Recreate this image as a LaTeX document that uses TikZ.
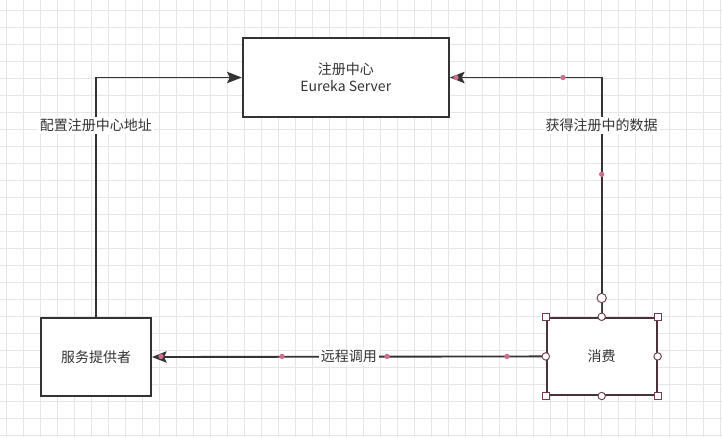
\documentclass[tikz,border=0pt]{standalone}
\usepackage{fontspec}
\setmainfont{Noto Sans CJK SC}
\usepackage{tikz}
\usetikzlibrary{arrows.meta,positioning}

\definecolor{linegray}{HTML}{333333}
\definecolor{gridgray}{HTML}{E6E6E6}
\definecolor{waypink}{HTML}{CC6E8E}
\definecolor{handlered}{HTML}{6E3E4C}
\definecolor{selborder}{HTML}{473338}

\tikzset{
  gridline/.style={gridgray,line width=0.8pt},
  box/.style={draw=linegray,line width=1.4pt,fill=white,text=linegray,
    inner sep=0pt,minimum width=82.5pt,minimum height=58.5pt,align=center,
    font=\fontsize{10.5}{12.5}\selectfont},
  link/.style={linegray,line width=1.4pt,
    -{Stealth[length=11pt,width=8.5pt,inset=2pt]}},
  linklabel/.style={fill=white,text=linegray,inner sep=1.5pt,
    font=\fontsize{10.5}{12.5}\selectfont},
  waypt/.style={fill=waypink},
  sqhandle/.style={draw=handlered,fill=white,line width=0.7pt,
    minimum size=5.2pt,inner sep=0pt},
  cirhandle/.style={circle,draw=handlered,fill=white,line width=0.7pt,
    minimum size=5.6pt,inner sep=0pt},
}

\begin{document}
\begin{tikzpicture}[x=0.75pt,y=-0.75pt]
  \useasboundingbox (0,0) rectangle (722,437);
  \fill[white] (0,0) rectangle (722,437);
  % background grid
  \foreach \i in {0,...,42}
    \draw[gridline] ({6.7+17*\i},0) -- ({6.7+17*\i},437);
  \foreach \j in {0,...,25}
    \draw[gridline] (0,{10.3+17*\j}) -- (722,{10.3+17*\j});

  % boxes
  \node[box,minimum width=154.7pt,minimum height=58.8pt] (registry) at (345.8,77.5)
    {注册中心\\Eureka Server};
  \node[box] (provider) at (96,357) {服务提供者};
  \node[box,draw=selborder,minimum height=58pt] (consumer) at (601.7,356.4) {消费};

  % connectors
  \draw[link] (provider.north) |- (registry.west)
    node[linklabel,pos=0.4] (lblcfg) {配置注册中心地址};
  \draw[link] (consumer.north) |- (registry.east)
    node[linklabel,pos=0.4] (lblfetch) {获得注册中的数据};
  \draw[link] (consumer.west) -- (provider.east)
    node[linklabel,midway] (lblcall) {远程调用};

  % waypoints
  \fill[waypt] (563,77.5) circle (2pt);
  \fill[waypt] (456,77.5) circle (2pt);
  \fill[waypt] (601.7,174.3) circle (2pt);
  \fill[waypt] (282,356.4) circle (2pt);
  \fill[waypt] (387,356.4) circle (2pt);
  \fill[waypt] (507,356.4) circle (2pt);
  \fill[waypt] (161,356.4) circle (2pt);

  % selection handles on consumer
  \coordinate (rot) at (601.7,298);
  \draw[handlered,line width=1pt] (consumer.north) -- (rot);
  \node[cirhandle,minimum size=7pt] (rothandle) at (rot) {};
  \foreach \a in {north west,north east,south west,south east}
    \node[sqhandle] at (consumer.\a) {};
  \foreach \a in {north,south,west,east}
    \node[cirhandle] at (consumer.\a) {};
\end{tikzpicture}
\end{document}
